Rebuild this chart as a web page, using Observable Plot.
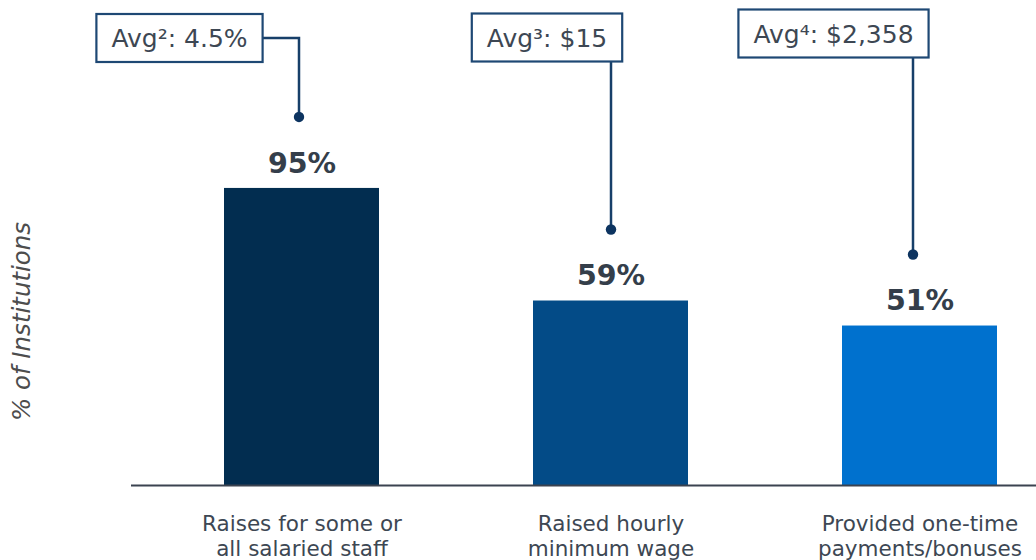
<!DOCTYPE html>
<html>
<head>
<meta charset="utf-8">
<script src="https://cdn.jsdelivr.net/npm/d3@7"></script>
<script src="https://cdn.jsdelivr.net/npm/@observablehq/plot@0.6"></script>
<style>
  html, body { margin: 0; padding: 0; background: #ffffff; }
  #chart { width: 1036px; height: 560px; }
</style>
</head>
<body>
<div id="chart"></div>
<script>
// Share of institutions taking each pay action
const categories = [
  "Raises for some or\nall salaried staff",
  "Raised hourly\nminimum wage",
  "Provided one-time\npayments/bonuses"
];
const shares = [95, 59, 51];
const barColors = ["#022d50", "#034b87", "#0071ce"];

// Averages shown in the callout boxes above each bar
const calloutLabels = ["Avg²: 4.5%", "Avg³: $15", "Avg⁴: $2,358"];

const data = categories.map((category, i) => ({
  category,
  share: shares[i],
  label: calloutLabels[i]
}));

// Callout placement (pixels): box centre relative to the bar centre,
// box centre from the top, which edge the leader leaves from, dot nudge
const calloutLayout = [
  {boxDx: -122, boxY: 38, side: "right", dotDx: -2.5},
  {boxDx: -63.5, boxY: 37.5, side: "bottom", dotDx: 0.5},
  {boxDx: -86, boxY: 33.5, side: "bottom", dotDx: -6.5}
];
const dotRise = 71;      // leader dot sits this far above the bar top
const boxFontSize = 25;
const boxPad = 15;
const boxHeight = 48;
const fontFamily = "DejaVu Sans, Verdana, sans-serif";

// Boxes, leader lines and dots, positioned with the plot's own scales
function callouts(rows, layout) {
  return Plot.text(rows, {
    x: "category",
    y: "share",
    text: "label",
    render(index, scales) {
      const bw = scales.x.bandwidth ? scales.x.bandwidth() : 0;
      const ctx = document.createElement("canvas").getContext("2d");
      ctx.font = `${boxFontSize}px ${fontFamily}`;
      const g = d3.create("svg:g");
      for (const i of index) {
        const d = rows[i], L = layout[i];
        const cx = scales.x(d.category) + bw / 2;
        const px = cx + L.dotDx;
        const py = scales.y(d.share) - dotRise;
        const w = ctx.measureText(d.label).width + 2 * boxPad;
        const bx = cx + L.boxDx, by = L.boxY;
        const path = L.side === "right"
          ? `M${bx + w / 2},${by}H${px}V${py}`
          : `M${px},${by + boxHeight / 2}V${py}`;
        g.append("path")
          .attr("d", path)
          .attr("fill", "none")
          .attr("stroke", "#173f69")
          .attr("stroke-width", 2.5);
        g.append("rect")
          .attr("x", bx - w / 2)
          .attr("y", by - boxHeight / 2)
          .attr("width", w)
          .attr("height", boxHeight)
          .attr("fill", "#ffffff")
          .attr("stroke", "#1e4874")
          .attr("stroke-width", 2.2);
        g.append("text")
          .attr("x", bx)
          .attr("y", by)
          .attr("dy", "0.36em")
          .attr("text-anchor", "middle")
          .attr("font-family", fontFamily)
          .attr("font-size", boxFontSize)
          .attr("fill", "#3d4753")
          .text(d.label);
        g.append("circle")
          .attr("cx", px)
          .attr("cy", py)
          .attr("r", 5.2)
          .attr("fill", "#0d3460");
      }
      return g.node();
    }
  });
}

const chart = Plot.plot({
  width: 1036,
  height: 560,
  marginTop: 0,
  marginBottom: 75,
  marginLeft: 131,
  marginRight: 0,
  style: {fontFamily, fontSize: "21.5px", color: "#3d4753", background: "#ffffff"},
  x: {
    type: "band",
    domain: categories,
    paddingInner: 0.5,
    paddingOuter: 0.2097,
    align: 0.7,
    axis: null
  },
  y: {domain: [0, 155.1], axis: null},
  color: {domain: categories, range: barColors},
  marks: [
    Plot.barY(data, {x: "category", y: "share", fill: "category"}),
    Plot.ruleY([0], {stroke: "#3b4350", strokeWidth: 2}),
    Plot.axisX({
      tickSize: 0,
      tickPadding: 28,
      fontSize: 21.5,
      lineHeight: 1.165,
      label: null
    }),
    Plot.text(data, {
      x: "category",
      y: "share",
      text: d => `${d.share}%`,
      dy: -25,
      fontSize: 28.5,
      fontWeight: "bold",
      fill: "#343e4a"
    }),
    Plot.text(["% of Institutions"], {
      text: d => d,
      frameAnchor: "left",
      textAnchor: "middle",
      dx: -109,
      dy: 78.5,
      rotate: -90,
      fontSize: 24.5,
      fontStyle: "italic",
      fill: "#4d4d4d"
    }),
    callouts(data, calloutLayout)
  ]
});

document.getElementById("chart").append(chart);
</script>
</body>
</html>
